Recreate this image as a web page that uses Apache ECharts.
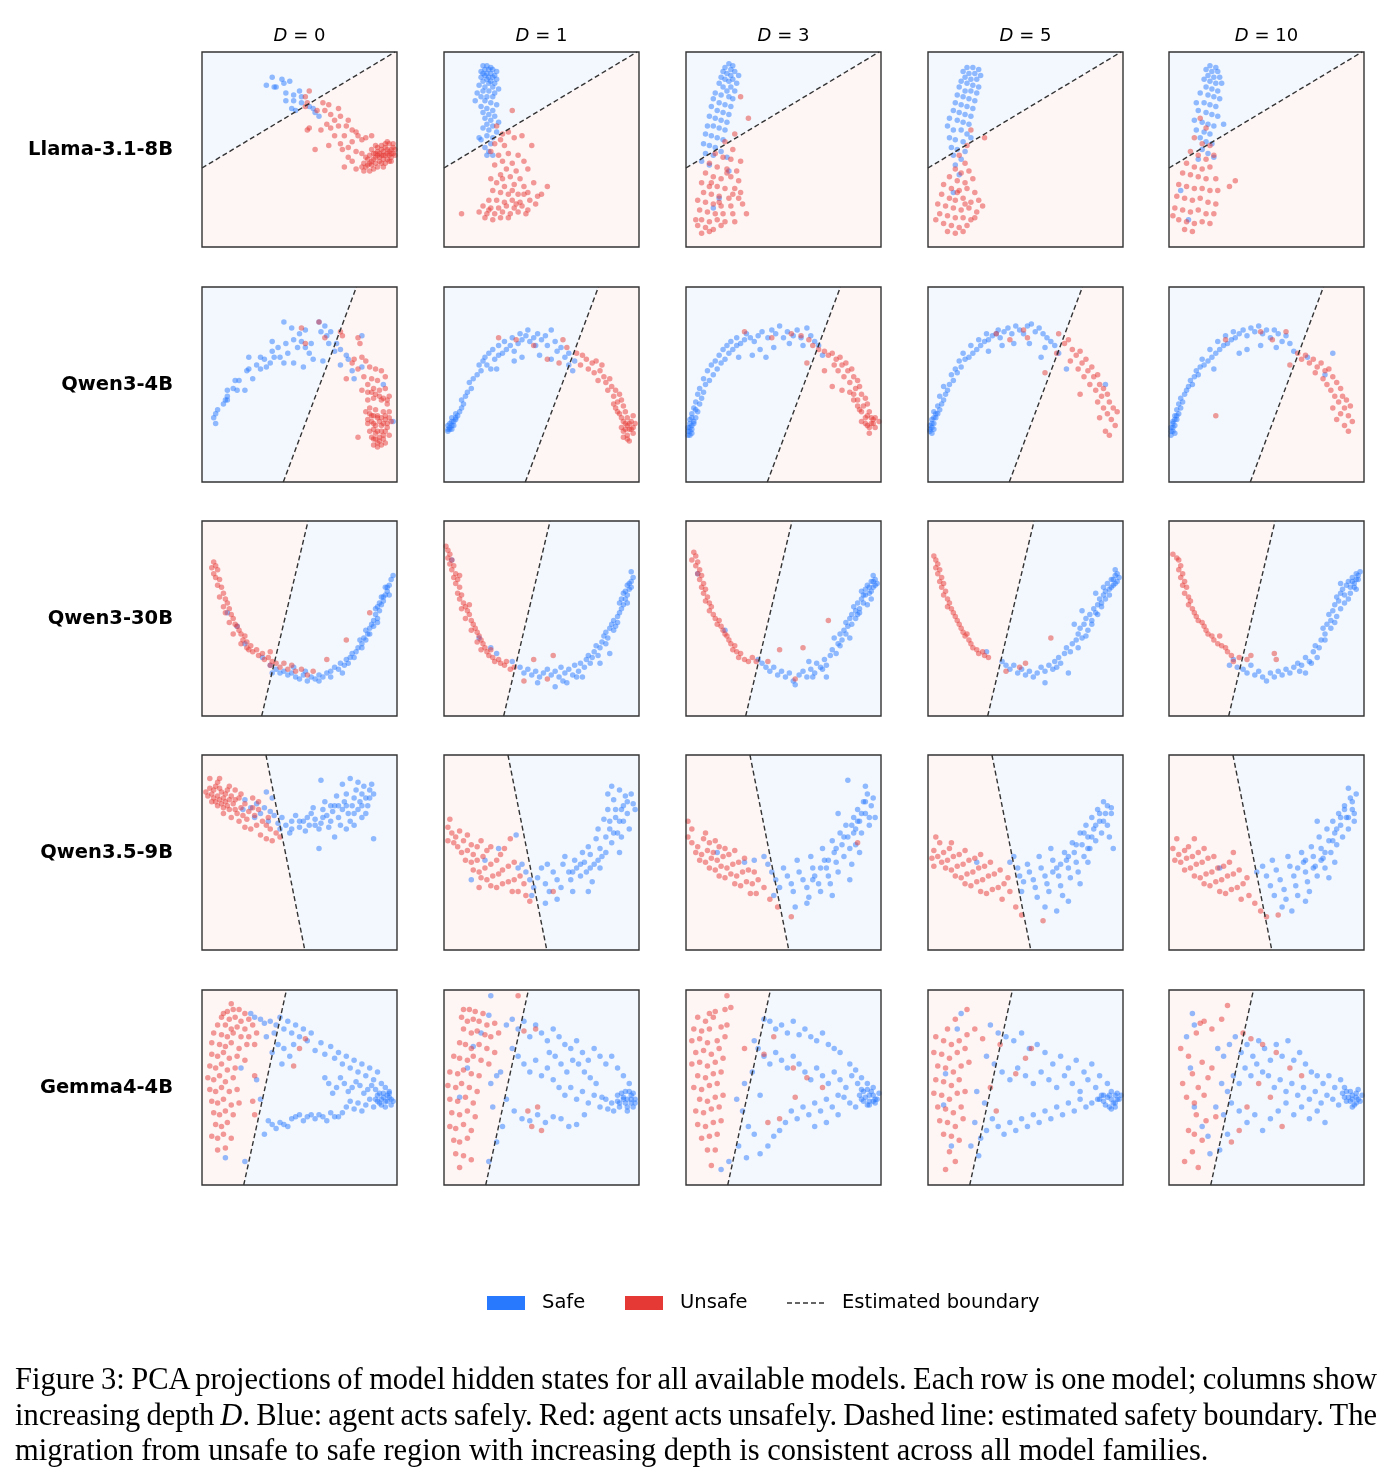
<!DOCTYPE html>
<html>
<head>
<meta charset="utf-8">
<script src="https://cdn.jsdelivr.net/npm/echarts@6/dist/echarts.min.js"></script>
<style>
  body { margin: 0; background: #fff; }
  #chart { width: 1393px; height: 1484px; }
  #caption {
    position: absolute; left: 15px; top: 1362px; width: 1362px;
    font-family: "Liberation Serif", "Times New Roman", serif;
    font-size: 30.5px; line-height: 35.5px; color: #000;
  }
  #caption .j { text-align: justify; text-align-last: justify; word-spacing: -5px; }
</style>
</head>
<body>
<div id="chart"></div>
<div id="caption">
  <div class="j">Figure 3: PCA projections of model hidden states for all available models. Each row is one model; columns show</div>
  <div class="j">increasing depth <i>D</i>. Blue: agent acts safely. Red: agent acts unsafely. Dashed line: estimated safety boundary. The</div>
  <div>migration from unsafe to safe region with increasing depth is consistent across all model families.</div>
</div>
<script>
const models = ['Llama-3.1-8B', 'Qwen3-4B', 'Qwen3-30B', 'Qwen3.5-9B', 'Gemma4-4B'];
const depths = [0, 1, 3, 5, 10];
const legendNames = ['Safe', 'Unsafe', 'Estimated boundary'];

// boundary line per model, in PCA panel units (0-100), same for all depths
const boundaries = [
  [[0, 40.5], [99, 100]],
  [[41.7, 0], [79.2, 100]],
  [[30.6, 0], [54.4, 100]],
  [[32.8, 100], [52.7, 0]],
  [[21.4, 0], [43.3, 100]]
];
// a point lying on the safe side of each boundary
const safeRef = [[0, 100], [0, 50], [100, 50], [100, 50], [100, 50]];

// ---- Llama-3.1-8B ----
const llamaD0Safe = [36,87, 33,83, 41,86, 42,84, 45,85, 37,82, 38,82, 43,79, 47,78, 50,80, 51,77, 43,75, 47,75, 46,71, 48,70, 51,74, 55,72, 58,69, 60,67, 57,71];
const llamaD0Unsafe = [55,80, 53,77, 54,74, 53,72, 59,70, 62,74, 65,73, 70,71, 63,70, 66,68, 68,65, 64,63, 71,67, 75,65, 55,61, 54,60, 61,60, 66,61, 70,62, 74,62, 77,60, 79,59, 68,57, 73,57, 80,57, 65,52, 71,53, 75,51, 58,50, 72,50, 77,54, 82,55, 84,56, 79,49, 82,48, 73,41, 79,40, 83,39, 77,44, 75,46, 87,57,
  92,50, 93,49, 94,51, 95,50, 96,49, 97,50, 98,51, 99,50, 91,48, 90,47, 89,46, 88,45, 87,44, 86,43, 85,42, 84,41, 90,49, 92,47, 94,47, 96,47, 98,48, 93,45, 95,45, 97,46, 91,44, 89,43, 87,42, 92,43, 94,43, 96,44, 99,47, 85,45, 83,43, 86,47, 88,48, 90,51, 92,52, 94,53, 96,53, 98,53, 95,54, 93,41, 90,41, 88,40, 86,39, 82,41, 84,46, 87,50, 89,52, 97,44, 91,46, 93,47, 95,48, 97,48, 89,48];
const llamaD1Safe = [20,93, 22,93, 24,92, 21,91, 23,91, 25,91, 27,90, 19,90, 20,89, 22,89, 24,89, 26,88, 21,88, 23,87, 25,87, 19,87, 27,86, 22,86, 24,85, 20,85, 26,84, 23,84, 18,83, 21,82, 25,82, 28,81, 20,80, 23,80, 26,79, 17,79, 19,77, 22,77, 25,77, 16,75, 21,75, 24,74, 27,73, 19,72, 22,71, 25,70, 20,69, 23,68, 26,67, 21,66, 24,65, 22,63, 25,62, 20,61, 23,60, 27,59, 22,57, 25,56, 19,55, 24,53, 21,51, 23,49, 22,47, 25,47, 18,56, 28,64];
const llamaD1Unsafe = [35,70, 27,62, 30,58, 33,59, 29,55, 36,56, 26,53, 31,52, 40,57, 45,52, 24,49, 28,47, 33,48, 38,47, 30,44, 35,43, 41,44, 26,42, 32,40, 37,39, 43,40, 29,37, 34,36, 39,35, 24,35, 27,33, 31,31, 36,32, 41,31, 46,33, 25,29, 29,28, 33,27, 38,27, 43,28, 48,26, 23,24, 27,24, 31,23, 35,24, 39,23, 44,24, 47,22, 20,21, 24,20, 28,20, 32,21, 36,20, 40,21, 43,19, 18,18, 22,17, 26,17, 30,18, 34,17, 38,18, 42,17, 21,15, 25,14, 29,15, 33,15, 23,19, 37,22, 9,17, 53,31, 50,27, 41,27, 35,29, 30,35];
const llamaD3Safe = [22,94, 24,93, 20,92, 23,91, 25,90, 19,90, 21,89, 27,88, 23,88, 18,87, 20,86, 24,86, 22,85, 26,84, 17,84, 19,82, 23,82, 21,80, 25,80, 15,79, 18,78, 22,77, 24,76, 14,76, 17,74, 20,73, 23,72, 13,72, 16,70, 19,69, 22,68, 12,67, 15,66, 18,65, 21,64, 11,62, 14,62, 17,61, 20,60, 10,58, 13,57, 16,56, 19,55, 9,53, 12,52, 15,51, 18,49, 10,48, 14,47, 21,46, 8,44, 12,42, 17,25, 14,20, 22,39];
const llamaD3Unsafe = [28,77, 32,66, 25,58, 20,54, 24,50, 15,48, 19,46, 23,45, 28,44, 12,43, 16,41, 21,40, 26,39, 10,38, 14,36, 18,35, 23,36, 27,34, 8,33, 12,31, 16,31, 20,30, 25,30, 9,28, 13,27, 17,26, 22,25, 27,25, 6,24, 10,23, 14,22, 18,21, 23,21, 29,22, 7,19, 11,18, 15,17, 19,17, 24,17, 8,14, 12,13, 16,14, 20,13, 25,13, 6,11, 10,10, 14,9, 18,11, 8,7, 12,8, 5,14, 31,17, 28,28, 24,27, 17,23, 13,33, 21,38];
const llamaD5Safe = [20,92, 23,92, 26,91, 18,90, 21,89, 24,89, 27,88, 19,87, 22,86, 25,86, 17,85, 20,84, 23,83, 26,82, 16,82, 19,80, 22,80, 25,79, 15,78, 18,77, 21,76, 24,75, 14,74, 17,73, 20,72, 23,71, 13,70, 16,69, 19,68, 22,67, 11,66, 15,65, 18,64, 21,63, 10,62, 13,60, 17,60, 20,58, 11,56, 14,55, 18,54, 12,51, 15,50, 19,49, 13,47, 17,45, 14,42, 16,37, 13,28, 22,56];
const llamaD5Unsafe = [29,56, 22,60, 20,52, 16,47, 19,43, 14,40, 17,38, 21,39, 11,36, 15,34, 19,33, 23,35, 8,32, 12,30, 16,29, 20,30, 24,28, 7,27, 11,25, 14,24, 18,25, 22,23, 26,24, 5,22, 9,21, 13,20, 17,19, 21,20, 25,18, 28,21, 6,17, 10,16, 14,15, 18,15, 22,14, 4,14, 8,12, 12,11, 16,10, 20,11, 10,8, 14,7, 18,8, 24,15, 15,28, 19,22];
const llamaD10Safe = [21,93, 24,92, 19,91, 22,90, 25,90, 20,88, 23,87, 26,87, 18,86, 21,85, 24,84, 27,84, 19,82, 22,81, 25,80, 16,79, 20,78, 23,77, 26,76, 14,74, 18,74, 21,73, 24,72, 15,70, 19,69, 22,68, 25,67, 13,65, 17,64, 20,63, 23,62, 28,63, 14,60, 18,59, 21,58, 16,56, 19,54, 22,53, 17,50, 20,48, 15,45, 23,46, 6,29, 10,14];
const llamaD10Unsafe = [16,66, 19,61, 13,56, 17,53, 21,52, 11,49, 15,47, 19,45, 23,47, 9,43, 13,41, 17,40, 21,41, 7,38, 11,37, 15,36, 19,35, 24,35, 5,32, 9,31, 13,30, 17,30, 21,29, 25,29, 4,26, 8,25, 12,24, 16,25, 20,23, 24,22, 3,20, 7,19, 11,18, 15,19, 19,17, 23,17, 5,14, 9,13, 13,12, 17,13, 21,12, 8,9, 12,8, 34,34, 31,31, 2,16];

// ---- Qwen3-4B ----
const qwen4D0Safe = [7,30, 6,33, 8,37, 11,40, 13,44, 13,47, 16,48, 17,52, 19,52, 22,47, 23,57, 24,64, 24,58, 26,53, 28,60, 30,64, 30,58, 32,63, 33,59, 35,61, 36,67, 36,72, 37,64, 39,69, 40,64, 42,82, 42,61, 43,71, 44,66, 46,79, 47,73, 47,61, 49,69, 50,76, 51,72, 52,59, 53,78, 53,69, 55,66, 56,71, 57,63, 60,82, 61,77, 62,62, 63,80, 64,75, 65,71, 66,77, 68,67, 69,71, 71,68, 71,60, 74,65, 75,63, 77,57, 78,53, 82,75, 82,59, 93,50, 98,31, 12,42, 18,47, 7,35, 13,42];
const qwen4D0Unsafe = [51,79, 60,82, 53,71, 63,74, 71,77, 72,75, 80,74, 81,71, 78,63, 77,61, 82,64, 84,62, 86,59, 89,58, 92,57, 83,54, 87,53, 90,52, 94,54, 85,50, 88,48, 91,47, 94,48, 82,47, 96,44, 85,42, 88,43, 92,42, 95,40, 86,38, 89,37, 93,36, 96,36, 87,34, 90,33, 94,32, 97,31, 85,30, 88,30, 92,29, 95,28, 86,26, 89,25, 93,24, 96,24, 88,22, 91,21, 94,20, 90,18, 80,23, 80,58, 74,53,
  85,46, 87,46, 89,45, 91,44, 93,43, 95,42, 84,36, 86,35, 88,34, 90,34, 92,33, 94,34, 96,33, 85,32, 87,31, 89,29, 91,31, 93,30, 95,30, 88,27, 90,26, 92,26, 94,26, 87,23, 89,22, 91,23, 93,22, 90,20, 92,19, 88,19];
const qwen4D1Safe = [2,26, 3,28, 4,27, 5,29, 3,30, 5,31, 6,32, 4,33, 7,34, 8,36, 6,35, 9,38, 10,40, 9,42, 11,44, 12,46, 14,48, 13,51, 15,53, 17,55, 19,57, 18,60, 20,62, 22,60, 24,58, 21,64, 23,66, 26,63, 28,65, 25,68, 30,66, 32,68, 28,70, 34,70, 36,67, 31,72, 38,71, 40,73, 35,74, 42,75, 44,72, 39,76, 46,74, 48,76, 43,78, 50,73, 52,75, 55,78, 47,70, 53,70, 57,72, 58,67, 60,69, 62,64, 64,66, 64,60, 67,62, 66,57, 55,63, 49,65, 36,62, 27,58, 40,64, 2,27, 3,27, 4,29, 2,29, 4,31, 6,33];
const qwen4D1Unsafe = [37,73, 46,70, 61,73, 63,69, 68,66, 71,65, 73,63, 76,61, 78,62, 74,58, 77,56, 80,57, 82,54, 79,52, 83,51, 85,53, 86,49, 84,47, 88,47, 87,44, 90,45, 89,41, 91,42, 88,38, 92,39, 93,36, 90,35, 94,33, 92,31, 95,30, 91,28, 93,27, 96,27, 94,24, 97,25, 92,23, 95,21, 98,30, 97,34, 81,60, 70,60, 59,61, 28,74, 53,63, 93,30, 95,27, 94,29, 96,31, 92,26, 94,22, 97,28, 91,33, 89,36, 87,40];
const qwen4D3Safe = [1,24, 2,26, 3,25, 1,28, 3,29, 4,31, 2,32, 5,33, 3,35, 6,36, 4,38, 7,40, 5,41, 8,43, 6,45, 9,46, 7,48, 10,50, 12,52, 9,53, 14,55, 11,57, 16,58, 13,60, 18,61, 15,62, 20,63, 17,65, 22,66, 19,68, 24,68, 21,70, 26,70, 23,72, 28,71, 30,73, 26,74, 33,74, 35,72, 31,76, 37,75, 39,77, 42,74, 44,78, 46,76, 48,80, 50,74, 52,77, 55,75, 57,78, 59,74, 62,79, 64,75, 66,72, 68,70, 60,70, 53,71, 45,69, 38,68, 34,65, 27,64, 41,64, 70,65, 2,30, 1,26, 2,28, 2,24, 3,27, 4,30, 3,33, 5,37];
const qwen4D3Unsafe = [44,74, 54,76, 59,75, 63,73, 65,70, 68,68, 71,67, 73,65, 75,66, 77,63, 79,64, 76,60, 80,60, 82,61, 78,57, 83,57, 85,58, 81,54, 86,54, 84,51, 88,52, 87,48, 89,49, 86,45, 90,45, 88,42, 92,43, 91,39, 93,40, 89,37, 94,36, 92,33, 95,33, 90,31, 96,30, 93,29, 97,28, 94,25, 99,31, 75,49, 80,47, 71,57, 30,77, 62,61, 93,34, 95,30, 96,32, 94,28, 92,30, 97,33, 90,36, 88,39, 86,42, 84,46];
const qwen4D5Safe = [1,26, 2,25, 3,27, 1,29, 3,30, 2,32, 4,33, 5,35, 3,36, 6,37, 5,39, 7,40, 8,42, 6,44, 9,45, 10,47, 8,49, 11,50, 13,52, 12,55, 15,56, 14,58, 17,59, 16,62, 19,63, 21,64, 18,66, 23,66, 25,68, 22,70, 27,70, 29,72, 26,73, 31,73, 33,75, 30,76, 35,76, 37,74, 36,78, 39,77, 41,79, 43,76, 45,80, 47,78, 49,76, 51,80, 53,81, 55,77, 57,79, 59,76, 61,74, 63,72, 65,70, 67,66, 60,69, 52,71, 44,71, 38,70, 31,67, 71,58, 91,50, 58,64, 1,27, 2,28, 2,30, 3,33, 4,35];
const qwen4D5Unsafe = [35,76, 49,78, 42,73, 67,76, 70,71, 72,73, 66,66, 74,68, 76,65, 78,67, 73,62, 79,61, 81,63, 77,58, 82,57, 84,59, 80,54, 85,54, 87,55, 83,50, 88,50, 86,47, 90,48, 89,44, 92,45, 87,41, 93,41, 90,38, 95,38, 92,35, 97,36, 94,32, 96,29, 88,33, 91,26, 93,24, 78,45, 60,56, 51,74];
const qwen4D10Safe = [1,24, 2,26, 3,25, 1,28, 3,29, 2,31, 4,32, 3,34, 5,35, 4,37, 6,38, 5,40, 7,41, 6,43, 8,45, 9,47, 10,49, 12,50, 11,52, 13,54, 15,55, 14,57, 16,59, 18,60, 20,62, 17,63, 22,64, 24,66, 21,68, 26,68, 28,70, 25,72, 30,71, 32,73, 29,75, 34,74, 36,76, 33,77, 38,78, 40,75, 42,79, 44,77, 46,80, 48,76, 50,78, 52,74, 54,78, 56,76, 58,72, 60,75, 62,71, 64,67, 55,69, 47,70, 40,68, 36,66, 71,64, 80,55, 23,58, 84,66, 1,26, 2,28, 2,30, 3,32, 4,34];
const qwen4D10Unsafe = [29,73, 47,77, 60,77, 53,73, 66,66, 68,63, 70,65, 72,61, 74,63, 76,59, 78,61, 75,56, 80,57, 82,58, 79,53, 84,54, 81,50, 86,51, 83,47, 88,48, 85,44, 89,44, 87,41, 91,42, 84,38, 90,38, 93,39, 88,35, 92,34, 86,32, 94,31, 90,29, 92,26, 24,34, 62,60];

// ---- Qwen3-30B ----
const qwen30D0Safe = [13,53, 18,46, 22,37, 31,30, 35,26, 38,24, 40,22, 42,23, 44,21, 46,22, 48,20, 50,19, 52,21, 54,18, 56,20, 58,19, 60,21, 62,20, 64,22, 66,23, 68,25, 70,24, 71,27, 73,26, 74,29, 76,30, 77,32, 79,33, 80,35, 82,37, 81,39, 83,40, 85,42, 84,44, 86,45, 87,47, 88,49, 90,50, 89,52, 91,54, 90,56, 92,57, 93,59, 92,61, 94,62, 95,64, 94,66, 96,67, 97,70, 98,72, 66,20, 60,18, 53,23, 47,25, 36,22, 72,22,
  89,55, 91,58, 93,61, 95,66, 96,62, 90,48, 88,46, 86,42, 84,39, 82,35, 78,30, 75,27];
const qwen30D0Unsafe = [6,79, 7,77, 5,76, 8,75, 6,73, 7,71, 9,70, 8,67, 10,66, 11,63, 9,61, 12,60, 13,58, 11,56, 14,55, 12,53, 15,52, 16,50, 14,48, 17,47, 18,46, 19,44, 20,42, 22,41, 21,39, 23,38, 25,36, 24,34, 26,33, 28,34, 29,31, 31,32, 32,29, 34,30, 36,28, 35,26, 38,27, 40,25, 42,27, 44,24, 46,26, 48,23, 51,24, 54,21, 57,23, 74,39, 86,53, 64,29, 35,33, 23,35, 16,42, 20,37];
const qwen30D1Safe = [4,80, 18,40, 24,35, 27,32, 35,28, 39,25, 41,22, 43,24, 45,21, 47,23, 49,20, 51,22, 53,24, 55,21, 57,23, 59,20, 60,25, 62,22, 64,24, 66,21, 67,26, 69,23, 70,27, 72,25, 73,29, 74,31, 76,30, 77,33, 78,36, 80,35, 81,38, 82,41, 83,43, 84,40, 85,45, 86,47, 87,49, 88,46, 89,51, 90,53, 91,55, 90,58, 92,57, 93,60, 92,63, 94,62, 95,65, 94,67, 96,69, 97,71, 96,74, 57,15, 48,17, 63,17, 71,20, 80,27, 85,32,
  91,60, 93,64, 95,68, 96,66, 94,58, 89,48, 87,44, 83,37, 79,31, 75,27, 68,20, 61,18];
const qwen30D1Unsafe = [1,87, 2,85, 3,83, 2,81, 4,80, 3,78, 5,77, 4,75, 6,73, 5,71, 7,70, 6,68, 8,66, 7,63, 9,62, 8,60, 10,58, 11,56, 9,55, 12,54, 13,52, 11,50, 14,49, 15,47, 16,45, 14,44, 17,43, 18,41, 19,39, 17,38, 20,37, 21,35, 22,33, 24,34, 23,31, 25,30, 26,28, 28,29, 29,27, 31,26, 32,28, 34,24, 36,25, 46,29, 56,31, 53,19, 41,18, 8,72, 13,57, 19,34];
const qwen30D3Safe = [37,29, 39,27, 41,25, 43,23, 45,25, 47,21, 49,23, 51,20, 53,22, 55,18, 56,16, 58,21, 60,23, 62,20, 64,24, 66,22, 67,27, 69,25, 71,29, 72,26, 74,31, 75,34, 77,32, 78,37, 80,39, 79,42, 81,44, 83,46, 82,48, 84,50, 85,52, 87,54, 86,56, 88,58, 89,55, 90,60, 91,62, 90,64, 92,65, 93,67, 94,63, 95,69, 96,66, 97,70, 96,72, 98,68, 95,60, 93,57, 88,52, 84,40, 76,40, 72,20, 63,28, 6,73, 20,44,
  94,66, 95,64, 97,67, 96,69, 92,62, 91,58, 89,53, 87,50, 85,47, 82,42, 79,36, 70,24, 65,20];
const qwen30D3Unsafe = [4,84, 5,82, 3,80, 6,79, 5,77, 7,75, 6,73, 8,72, 7,70, 9,68, 8,66, 10,65, 9,63, 11,61, 10,59, 12,58, 13,56, 12,54, 14,52, 15,50, 17,49, 16,47, 18,46, 19,44, 20,42, 21,41, 22,39, 23,37, 25,36, 24,34, 26,33, 28,32, 27,30, 30,29, 32,28, 34,30, 36,28, 48,34, 56,19, 60,35, 73,49, 42,28];
const qwen30D5Safe = [30,33, 38,28, 40,26, 42,24, 44,26, 46,22, 48,24, 50,21, 52,23, 54,20, 56,22, 58,25, 60,23, 62,26, 64,24, 65,28, 67,30, 68,27, 70,32, 71,35, 73,33, 74,37, 76,39, 77,42, 78,45, 79,40, 80,47, 81,50, 82,44, 83,52, 84,49, 85,55, 86,53, 87,57, 88,60, 89,58, 90,62, 91,64, 90,66, 92,68, 93,65, 94,70, 95,67, 96,72, 97,69, 98,71, 96,75, 79,54, 75,47, 86,63, 72,22, 60,17,
  93,62, 95,70, 97,73, 96,68, 94,66, 91,60, 89,56, 87,52, 84,47, 81,41, 77,35, 66,25];
const qwen30D5Unsafe = [3,82, 4,80, 5,78, 4,76, 6,75, 5,73, 7,71, 6,69, 8,68, 7,66, 9,64, 8,62, 10,60, 11,58, 10,56, 12,55, 13,53, 14,51, 15,49, 16,47, 17,45, 18,43, 19,41, 21,39, 22,37, 23,35, 25,34, 26,32, 28,33, 29,31, 31,30, 40,23, 47,25, 50,27, 63,40, 20,42];
const qwen30D10Safe = [31,26, 33,29, 35,25, 38,24, 40,22, 42,26, 44,21, 46,23, 48,20, 50,18, 52,22, 54,20, 56,23, 58,21, 60,24, 62,22, 64,25, 66,27, 68,26, 70,30, 72,28, 74,33, 75,36, 77,35, 78,39, 80,42, 79,45, 81,47, 83,49, 82,52, 84,54, 85,57, 87,59, 86,61, 88,63, 89,65, 90,62, 91,67, 92,69, 93,66, 94,71, 95,68, 96,73, 97,70, 98,74, 96,65, 92,60, 85,48, 70,22, 76,30, 88,68,
  94,69, 96,70, 97,72, 95,66, 93,63, 90,58, 88,55, 86,51, 83,45, 80,39, 73,27, 67,23];
const qwen30D10Unsafe = [2,83, 4,81, 5,80, 6,77, 5,75, 7,73, 6,71, 8,69, 7,67, 9,66, 8,63, 10,61, 11,59, 10,57, 12,55, 13,53, 14,51, 15,49, 17,48, 18,46, 19,44, 20,42, 22,41, 23,39, 25,37, 27,36, 29,35, 30,33, 32,31, 33,28, 36,30, 40,29, 42,31, 54,32, 55,29, 26,41];

// ---- Qwen3.5-9B ----
const qwen9D0Safe = [22,77, 21,72, 25,73, 27,68, 30,70, 28,75, 32,73, 35,71, 37,69, 34,66, 39,65, 41,68, 40,62, 43,64, 45,60, 46,66, 48,69, 50,63, 52,66, 53,61, 55,64, 56,70, 57,73, 58,67, 60,62, 61,65, 62,72, 63,76, 64,69, 65,63, 66,66, 67,71, 68,74, 69,79, 70,68, 71,64, 72,72, 73,76, 74,80, 75,70, 76,66, 77,74, 78,78, 79,82, 80,72, 81,76, 82,80, 83,84, 84,78, 86,82, 87,85, 88,80, 85,74, 82,68, 78,64, 74,62, 88,57, 60,52, 68,58, 61,87, 72,85, 76,88, 80,86, 36,78, 33,81,
  70,74, 74,74, 78,70, 82,74, 86,78, 84,70, 66,74, 62,68, 58,64, 54,68, 50,66, 46,62];
const qwen9D0Unsafe = [2,81, 4,83, 3,79, 5,80, 6,82, 7,84, 8,86, 9,83, 10,81, 6,78, 8,79, 9,77, 11,78, 12,80, 13,82, 7,76, 10,75, 12,76, 14,77, 15,79, 5,76, 8,74, 11,73, 13,74, 16,75, 17,77, 19,78, 14,72, 17,72, 20,73, 22,75, 18,70, 21,69, 24,71, 26,73, 15,68, 19,66, 23,67, 27,69, 29,72, 22,63, 25,62, 28,64, 31,66, 33,64, 35,62, 38,60, 40,58, 36,56, 33,57, 30,59, 4,88, 9,88, 14,84, 17,82, 20,80, 26,78, 29,76, 11,70, 34,68];
const qwen9D1Safe = [14,36, 21,46, 28,52, 37,59, 38,42, 40,44, 42,40, 44,36, 46,32, 45,28, 48,37, 50,42, 52,34, 54,30, 53,44, 56,40, 58,36, 60,32, 61,44, 62,48, 64,40, 65,36, 66,30, 67,46, 68,42, 70,38, 71,50, 72,45, 73,40, 74,53, 75,49, 76,35, 77,44, 78,57, 79,62, 80,52, 81,48, 82,67, 83,58, 84,72, 85,62, 86,55, 87,77, 88,68, 89,60, 90,50, 91,72, 92,66, 93,79, 94,70, 95,62, 96,80, 97,75, 98,72, 86,84, 84,80, 90,82, 80,42, 74,30, 58,26, 52,24,
  85,66, 88,72, 90,66, 92,74, 94,76, 91,58, 87,60, 83,50, 79,46, 75,42, 70,44, 66,40];
const qwen9D1Unsafe = [3,67, 2,63, 4,60, 6,58, 8,61, 2,56, 5,55, 7,53, 10,56, 12,59, 14,54, 9,50, 12,51, 15,49, 17,53, 19,56, 11,46, 14,45, 17,46, 20,48, 22,51, 24,53, 15,41, 18,40, 21,42, 24,44, 27,46, 29,49, 31,52, 19,37, 22,36, 25,38, 28,39, 30,41, 33,43, 36,45, 24,33, 27,32, 30,34, 33,35, 36,36, 39,38, 41,34, 38,30, 35,30, 42,28, 44,25, 56,30, 34,57, 18,32];
const qwen9D3Safe = [16,50, 30,45, 35,46, 40,48, 42,44, 44,40, 46,36, 48,32, 45,28, 50,42, 52,38, 54,34, 55,30, 57,46, 58,40, 60,36, 62,32, 63,27, 64,48, 65,42, 66,38, 68,34, 69,30, 70,52, 71,46, 72,42, 73,38, 74,34, 75,56, 76,50, 77,45, 78,40, 79,60, 80,54, 81,48, 82,64, 83,58, 84,52, 85,44, 86,68, 87,62, 88,72, 89,66, 90,60, 91,76, 92,70, 93,80, 94,64, 95,74, 96,78, 83,87, 92,84, 78,70, 84,36, 75,28, 56,22, 62,24, 89,50, 97,68,
  86,60, 88,66, 90,70, 92,76, 94,68, 87,54, 85,64, 81,58, 77,52, 73,46, 69,42, 65,36];
const qwen9D3Unsafe = [1,66, 3,62, 1,58, 3,55, 6,53, 9,57, 12,55, 5,50, 8,49, 11,51, 14,50, 17,53, 20,52, 7,46, 10,45, 13,47, 16,46, 19,48, 22,49, 25,51, 12,42, 15,41, 18,43, 21,42, 24,44, 27,45, 30,47, 17,38, 20,37, 23,39, 26,38, 29,40, 32,41, 35,40, 25,34, 28,33, 31,35, 34,34, 37,36, 40,32, 36,29, 33,29, 43,26, 47,22, 54,17, 88,55, 10,60, 15,56];
const qwen9D5Safe = [25,45, 42,45, 44,48, 46,42, 47,38, 49,35, 48,30, 51,44, 52,40, 54,36, 55,32, 56,27, 57,48, 58,42, 60,38, 61,34, 62,30, 63,52, 64,46, 66,42, 67,38, 68,33, 69,28, 70,50, 71,46, 72,42, 73,37, 74,55, 75,50, 76,45, 77,40, 78,60, 79,54, 80,48, 81,64, 82,58, 83,52, 84,68, 85,62, 86,56, 87,72, 88,66, 89,60, 90,76, 91,70, 92,64, 93,58, 94,73, 95,52, 78,34, 72,25, 60,22, 66,20, 82,45,
  86,64, 88,70, 90,66, 92,74, 94,70, 84,58, 82,52, 80,60, 76,54, 72,48, 68,44, 64,40];
const qwen9D5Unsafe = [4,58, 6,55, 3,51, 2,47, 5,48, 8,50, 11,52, 7,45, 10,46, 13,48, 16,49, 19,51, 9,42, 12,41, 15,43, 18,44, 21,46, 24,47, 27,49, 14,38, 17,37, 20,39, 23,40, 26,42, 29,43, 32,45, 19,34, 22,33, 25,35, 28,36, 31,38, 34,39, 37,41, 27,30, 30,29, 33,31, 36,32, 39,34, 42,30, 38,26, 45,22, 48,18, 59,15, 3,43, 12,55, 41,37];
const qwen9D10Safe = [26,42, 45,40, 48,43, 50,38, 52,33, 54,28, 53,46, 55,41, 57,36, 59,31, 60,26, 61,48, 62,43, 64,38, 65,33, 66,28, 68,50, 69,45, 70,40, 71,35, 72,30, 73,53, 74,48, 75,43, 76,38, 77,58, 78,52, 79,47, 80,42, 81,62, 82,56, 83,50, 84,66, 85,60, 86,54, 87,70, 88,64, 89,58, 90,74, 91,68, 92,62, 93,78, 94,72, 95,66, 96,80, 92,83, 76,66, 82,37, 70,25, 58,22, 63,20, 85,45,
  88,68, 90,72, 92,68, 94,76, 95,70, 86,62, 84,56, 80,50, 78,46, 74,42, 70,46, 66,42];
const qwen9D10Unsafe = [4,57, 13,57, 2,52, 5,49, 8,51, 10,53, 3,46, 6,45, 9,47, 12,48, 15,50, 18,52, 8,41, 11,42, 14,44, 17,45, 20,47, 23,48, 13,38, 16,37, 19,39, 22,40, 25,42, 28,43, 31,45, 18,34, 21,33, 24,35, 27,36, 30,38, 33,39, 36,41, 26,30, 29,29, 32,31, 35,32, 38,34, 41,28, 37,26, 44,24, 47,20, 50,17, 56,18, 33,50, 40,37];

// ---- Gemma4-4B ----
const gemmaD0Safe = [25,88, 27,86, 30,85, 32,83, 35,84, 38,82, 40,86, 42,80, 44,84, 46,78, 48,82, 50,76, 52,80, 54,74, 56,78, 37,78, 33,76, 39,72, 36,68, 42,70, 45,66, 41,62, 47,72, 58,69, 61,73, 63,67, 66,71, 68,65, 70,68, 72,62, 74,66, 76,60, 78,64, 80,58, 82,62, 84,56, 86,60, 88,54, 90,58, 92,52, 94,50, 96,47, 97,44, 95,43, 93,45, 91,47, 89,49, 87,51, 85,49, 83,47, 81,51, 79,53, 77,50, 75,48, 73,52, 71,55, 69,50, 67,47, 65,52, 63,55, 92,41, 90,43, 88,40, 86,44, 84,41, 82,38, 80,42, 78,39, 76,43, 74,40, 72,37, 70,35, 68,35, 66,37, 64,33, 62,35, 60,36, 58,34, 56,36, 54,35, 52,33, 50,36, 48,35, 46,34, 44,30, 42,31, 40,32, 38,29, 36,31, 34,33, 30,44, 28,54, 32,26, 12,14, 22,12, 20,60,
  92,44, 94,43, 96,45, 98,43, 95,46, 93,47, 97,41, 91,42, 89,44, 94,40, 96,48, 90,46];
const gemmaD0Unsafe = [15,93, 11,88, 13,89, 16,90, 19,90, 22,88, 10,86, 14,85, 17,86, 20,84, 24,85, 8,82, 12,82, 15,80, 18,81, 22,80, 26,82, 6,78, 10,77, 13,76, 16,78, 20,76, 24,76, 28,78, 5,73, 9,72, 12,71, 15,73, 19,70, 23,72, 27,72, 5,67, 8,66, 11,68, 14,65, 18,66, 22,64, 4,61, 7,60, 10,62, 13,59, 17,60, 3,55, 6,54, 9,56, 12,53, 16,55, 4,49, 7,48, 10,50, 14,48, 18,49, 5,43, 8,42, 11,44, 15,41, 19,42, 26,43, 6,37, 9,36, 12,38, 16,36, 27,36, 7,31, 10,30, 13,32, 5,25, 8,24, 11,26, 15,24, 8,18, 12,19, 50,70, 47,61, 53,75, 27,56];
const gemmaD1Safe = [24,97, 23,87, 19,78, 15,71, 12,60, 8,45, 24,52, 27,56, 29,58, 32,82, 35,85, 38,80, 41,84, 44,76, 47,82, 50,78, 53,74, 56,80, 59,76, 62,72, 65,70, 68,74, 71,68, 74,64, 77,70, 80,66, 83,62, 86,66, 89,60, 92,56, 95,52, 35,70, 38,66, 41,62, 44,58, 47,64, 50,56, 53,60, 56,54, 59,50, 62,46, 65,50, 68,44, 71,48, 74,42, 77,46, 80,40, 83,44, 86,42, 89,46, 92,44, 94,40, 96,42, 98,44, 97,47, 93,48, 90,42, 87,38, 84,39, 81,45, 78,52, 75,55, 72,58, 69,62, 66,64, 63,58, 60,62, 57,66, 54,68, 36,38, 40,34, 44,33, 48,36, 52,32, 56,35, 60,34, 64,30, 68,31, 72,36, 30,30, 27,22, 23,12, 32,44, 25,40,
  92,45, 94,44, 96,46, 98,42, 95,48, 93,42, 97,40, 91,47, 89,43, 94,38, 96,44, 90,40];
const gemmaD1Unsafe = [38,97, 10,90, 13,90, 16,89, 20,88, 9,86, 12,84, 15,85, 18,84, 22,82, 26,83, 10,80, 14,78, 17,79, 21,77, 24,76, 28,78, 8,73, 11,72, 14,70, 18,72, 22,70, 26,68, 5,66, 8,65, 12,64, 15,66, 19,64, 23,62, 3,58, 7,57, 10,59, 14,57, 18,56, 2,51, 6,50, 9,52, 13,50, 17,48, 3,44, 7,43, 11,45, 15,42, 4,37, 8,36, 12,38, 16,35, 3,30, 6,29, 10,31, 14,28, 5,23, 8,22, 12,24, 6,16, 10,15, 14,13, 8,9, 41,79, 47,80, 43,38, 45,30, 50,28, 48,40];
const gemmaD3Safe = [40,85, 43,84, 46,80, 49,82, 52,78, 55,84, 58,77, 61,80, 64,76, 67,74, 70,78, 73,72, 76,70, 79,68, 35,74, 37,70, 40,66, 43,62, 46,68, 49,64, 52,60, 55,66, 58,62, 61,58, 64,54, 67,60, 70,56, 73,52, 76,58, 79,54, 82,50, 85,56, 88,52, 91,48, 94,46, 97,44, 99,47, 96,50, 93,52, 90,55, 87,59, 84,62, 81,45, 84,42, 87,40, 90,44, 93,41, 78,46, 75,40, 72,44, 69,38, 66,42, 63,36, 60,40, 57,34, 54,38, 51,32, 48,28, 45,25, 42,20, 38,16, 35,26, 32,30, 29,38, 26,44, 30,52, 34,58, 38,46, 22,12, 18,8, 27,20, 31,14, 66,30, 72,32, 78,36,
  92,45, 94,43, 96,46, 98,44, 95,48, 93,49, 97,42, 91,43, 89,46, 94,41, 96,43, 90,49];
const gemmaD3Unsafe = [21,97, 23,91, 20,90, 12,88, 15,89, 6,86, 10,84, 14,86, 4,80, 8,79, 12,80, 18,81, 21,82, 3,74, 7,75, 11,73, 16,74, 20,76, 5,68, 9,69, 13,67, 17,70, 3,62, 7,63, 11,61, 15,63, 19,65, 6,56, 10,55, 14,57, 18,58, 4,50, 8,49, 12,51, 16,52, 7,44, 11,43, 15,45, 19,46, 5,38, 9,37, 13,39, 17,40, 6,31, 10,30, 14,32, 18,33, 8,24, 12,25, 16,26, 11,18, 15,18, 13,10, 30,70, 40,67, 45,76, 55,60, 62,55, 42,32, 48,34, 70,50, 56,45];
const gemmaD5Safe = [17,88, 15,80, 9,57, 8,41, 12,20, 32,82, 36,78, 40,76, 44,74, 48,78, 52,70, 56,72, 60,68, 64,62, 68,66, 72,60, 76,64, 80,58, 84,62, 30,66, 34,62, 38,58, 42,54, 46,60, 50,56, 54,52, 58,58, 62,54, 66,50, 70,56, 74,52, 78,48, 82,54, 86,50, 90,46, 94,48, 97,44, 99,46, 96,42, 93,40, 90,43, 87,44, 84,42, 81,40, 78,44, 75,38, 72,42, 69,36, 66,40, 63,34, 60,38, 57,32, 54,36, 51,30, 48,34, 45,28, 42,32, 39,26, 36,30, 33,34, 30,28, 27,24, 24,32, 22,20, 26,15, 29,42, 25,48, 92,52, 88,56,
  92,45, 94,44, 96,46, 98,44, 95,42, 93,46, 97,47, 91,41, 89,46, 94,39, 96,40, 88,44];
const gemmaD5Unsafe = [20,90, 14,85, 10,80, 4,76, 8,74, 12,72, 16,74, 20,77, 24,80, 3,68, 7,67, 11,65, 15,68, 19,70, 5,61, 9,60, 13,58, 17,61, 21,63, 4,54, 8,53, 12,51, 16,54, 3,47, 7,46, 11,44, 15,47, 19,48, 5,40, 9,39, 13,37, 17,40, 6,33, 10,32, 14,30, 18,34, 8,26, 12,25, 16,23, 11,17, 14,12, 9,8, 28,75, 37,72, 50,65, 45,57, 53,70, 35,38, 32,50];
const gemmaD10Safe = [12,88, 13,82, 9,76, 11,60, 13,40, 17,30, 20,25, 25,70, 28,66, 31,72, 34,76, 37,68, 40,72, 43,66, 46,74, 49,70, 52,64, 55,72, 58,66, 61,74, 64,64, 67,68, 70,62, 73,58, 76,56, 79,52, 82,56, 85,50, 88,54, 91,48, 94,46, 97,44, 99,46, 96,42, 93,43, 90,45, 87,41, 84,44, 81,46, 78,42, 75,48, 72,44, 69,50, 66,46, 63,52, 60,48, 57,54, 54,50, 51,56, 48,58, 45,62, 42,56, 39,60, 36,52, 33,56, 30,48, 27,52, 24,40, 28,36, 32,42, 36,38, 40,32, 44,36, 48,28, 52,34, 56,38, 60,42, 64,36, 68,40, 72,34, 76,38, 80,32, 30,26, 26,18, 21,16,
  92,45, 94,44, 96,47, 98,43, 95,41, 93,48, 97,49, 91,43, 89,47, 94,40, 96,45, 90,50];
const gemmaD10Unsafe = [30,92, 27,85, 18,84, 16,83, 22,80, 14,78, 6,70, 10,66, 17,63, 22,60, 12,57, 7,52, 15,50, 20,55, 9,45, 13,42, 18,46, 14,36, 19,33, 24,35, 10,28, 13,26, 17,23, 12,17, 8,12, 15,9, 38,78, 42,75, 48,72, 55,68, 62,60, 68,56, 52,45, 46,52, 40,40, 58,30, 32,22, 36,28];

const safeData = [
  [llamaD0Safe, llamaD1Safe, llamaD3Safe, llamaD5Safe, llamaD10Safe],
  [qwen4D0Safe, qwen4D1Safe, qwen4D3Safe, qwen4D5Safe, qwen4D10Safe],
  [qwen30D0Safe, qwen30D1Safe, qwen30D3Safe, qwen30D5Safe, qwen30D10Safe],
  [qwen9D0Safe, qwen9D1Safe, qwen9D3Safe, qwen9D5Safe, qwen9D10Safe],
  [gemmaD0Safe, gemmaD1Safe, gemmaD3Safe, gemmaD5Safe, gemmaD10Safe]
];
const unsafeData = [
  [llamaD0Unsafe, llamaD1Unsafe, llamaD3Unsafe, llamaD5Unsafe, llamaD10Unsafe],
  [qwen4D0Unsafe, qwen4D1Unsafe, qwen4D3Unsafe, qwen4D5Unsafe, qwen4D10Unsafe],
  [qwen30D0Unsafe, qwen30D1Unsafe, qwen30D3Unsafe, qwen30D5Unsafe, qwen30D10Unsafe],
  [qwen9D0Unsafe, qwen9D1Unsafe, qwen9D3Unsafe, qwen9D5Unsafe, qwen9D10Unsafe],
  [gemmaD0Unsafe, gemmaD1Unsafe, gemmaD3Unsafe, gemmaD5Unsafe, gemmaD10Unsafe]
];

const BLUE = '#2979ff', RED = '#e53935';
const colLeft = [202, 444, 686, 928, 1169];
const rowTop = [52, 287, 521, 755, 990];
const SIZE = 195;

function pairs(flat) {
  const out = [];
  for (let i = 0; i < flat.length; i += 2) out.push([flat[i], flat[i + 1]]);
  return out;
}

function cross(p1, p2, p) {
  return (p2[0] - p1[0]) * (p[1] - p1[1]) - (p2[1] - p1[1]) * (p[0] - p1[0]);
}

// part of the 0-100 box lying on one side of the boundary
function halfBox(p1, p2, sign) {
  const box = [[0, 0], [100, 0], [100, 100], [0, 100]];
  const out = [];
  for (let i = 0; i < 4; i++) {
    const a = box[i], b = box[(i + 1) % 4];
    const sa = sign * cross(p1, p2, a), sb = sign * cross(p1, p2, b);
    if (sa >= 0) out.push(a);
    if ((sa >= 0) !== (sb >= 0)) {
      const t = sa / (sa - sb);
      out.push([a[0] + t * (b[0] - a[0]), a[1] + t * (b[1] - a[1])]);
    }
  }
  return out;
}

const grid = [], xAxis = [], yAxis = [], series = [], graphic = [];

models.forEach((model, r) => {
  const [p1, p2] = boundaries[r];
  const safeSign = Math.sign(cross(p1, p2, safeRef[r]));
  const safePoly = halfBox(p1, p2, safeSign);
  const unsafePoly = halfBox(p1, p2, -safeSign);

  depths.forEach((d, c) => {
    const k = r * depths.length + c;
    grid.push({ left: colLeft[c], top: rowTop[r], width: SIZE, height: SIZE, show: false });
    xAxis.push({ gridIndex: k, type: 'value', min: 0, max: 100, show: false });
    yAxis.push({ gridIndex: k, type: 'value', min: 0, max: 100, show: false });

    // shaded regions
    series.push({
      type: 'custom', xAxisIndex: k, yAxisIndex: k, z: 1, silent: true, data: [[0, 0]],
      renderItem: (params, api) => ({
        type: 'group',
        children: [
          { type: 'polygon', shape: { points: unsafePoly.map(p => api.coord(p)) }, style: { fill: '#fef5f5' } },
          { type: 'polygon', shape: { points: safePoly.map(p => api.coord(p)) }, style: { fill: '#f3f8fe' } }
        ]
      })
    });
    series.push({
      type: 'scatter', name: 'Safe', xAxisIndex: k, yAxisIndex: k, z: 2, silent: true,
      data: pairs(safeData[r][c]), symbolSize: 5.5,
      itemStyle: { color: BLUE, opacity: 0.5 }
    });
    series.push({
      type: 'scatter', name: 'Unsafe', xAxisIndex: k, yAxisIndex: k, z: 3, silent: true,
      data: pairs(unsafeData[r][c]), symbolSize: 5.5,
      itemStyle: { color: RED, opacity: 0.5 }
    });
    // boundary + frame
    series.push({
      type: 'custom', xAxisIndex: k, yAxisIndex: k, z: 5, silent: true, data: [[0, 0]],
      renderItem: (params, api) => {
        const a = api.coord(p1), b = api.coord(p2);
        const tl = api.coord([0, 100]), br = api.coord([100, 0]);
        return {
          type: 'group',
          children: [
            { type: 'line', shape: { x1: a[0], y1: a[1], x2: b[0], y2: b[1] },
              style: { stroke: '#333', lineWidth: 1.4, lineDash: [5, 3] } },
            { type: 'rect', shape: { x: tl[0], y: tl[1], width: br[0] - tl[0], height: br[1] - tl[1] },
              style: { fill: null, stroke: '#333', lineWidth: 1.4 } }
          ]
        };
      }
    });
  });

  graphic.push({
    type: 'text', x: 173, y: rowTop[r] + SIZE / 2,
    style: { text: model, align: 'right', verticalAlign: 'middle',
      font: 'bold 19.5px "DejaVu Sans"', fill: '#000' }
  });
});

depths.forEach((d, c) => {
  graphic.push({
    type: 'text', x: colLeft[c] + SIZE / 2, y: 36,
    style: {
      text: '{i|D} = ' + d, align: 'center', verticalAlign: 'middle',
      font: '18px "DejaVu Sans"', fill: '#000',
      rich: { i: { fontStyle: 'italic', fontFamily: 'DejaVu Sans', fontSize: 18, fill: '#000' } }
    }
  });
});

// legend
const legY = 1303;
graphic.push(
  { type: 'rect', shape: { x: 487, y: legY - 7, width: 38, height: 14 }, style: { fill: BLUE } },
  { type: 'text', x: 542, y: legY, style: { text: legendNames[0], verticalAlign: 'middle', font: '19.5px "DejaVu Sans"', fill: '#000' } },
  { type: 'rect', shape: { x: 625, y: legY - 7, width: 38, height: 14 }, style: { fill: RED } },
  { type: 'text', x: 680, y: legY, style: { text: legendNames[1], verticalAlign: 'middle', font: '19.5px "DejaVu Sans"', fill: '#000' } },
  { type: 'line', shape: { x1: 787, y1: legY, x2: 826, y2: legY }, style: { stroke: '#333', lineWidth: 1.3, lineDash: [5, 3] } },
  { type: 'text', x: 842, y: legY, style: { text: legendNames[2], verticalAlign: 'middle', font: '19.5px "DejaVu Sans"', fill: '#000' } }
);

const chart = echarts.init(document.getElementById('chart'), null, { renderer: 'canvas' });
chart.setOption({
  animation: false,
  backgroundColor: '#fff',
  grid, xAxis, yAxis, series, graphic
});
</script>
</body>
</html>
